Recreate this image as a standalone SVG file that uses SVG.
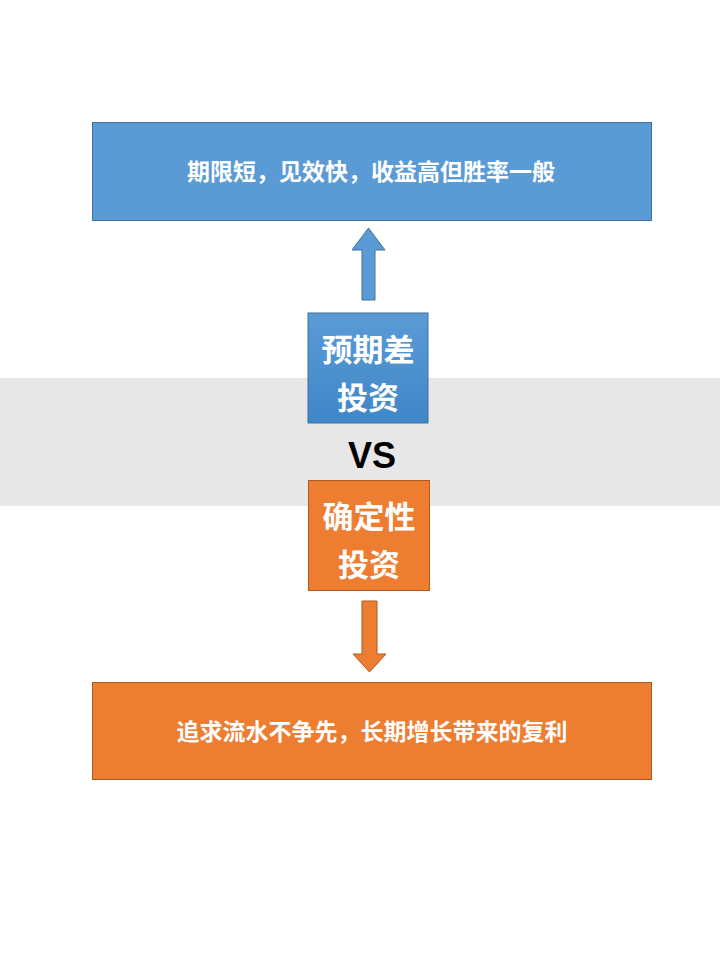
<svg xmlns="http://www.w3.org/2000/svg" width="720" height="960" viewBox="0 0 720 960">
<defs>
<style>
.t{font-family:"Noto Sans CJK SC","Liberation Sans",sans-serif;font-weight:bold;fill:#fff;text-anchor:middle}
</style>
<linearGradient id="bg" x1="0" y1="0" x2="0" y2="1"><stop offset="0" stop-color="#5b9bd5"/><stop offset="1" stop-color="#3f86c9"/></linearGradient>
</defs>
<rect width="720" height="960" fill="#fff"/>
<rect x="0" y="378" width="720" height="128" fill="#e7e7e7"/>
<g id="top"><rect x="92.5" y="122.5" width="559" height="98" fill="#5b9bd5" stroke="#41719c"/>
<text class="t" x="371" y="180" font-size="23">期限短，见效快，收益高但胜率一般</text></g>
<g id="bottom"><rect x="92.5" y="682.5" width="559" height="97" fill="#ed7d31" stroke="#ae5a21"/>
<text class="t" x="372" y="740" font-size="23">追求流水不争先，长期增长带来的复利</text></g>
<g id="exp"><rect x="308" y="313" width="120" height="110" fill="url(#bg)" stroke="#41719c"/>
<text class="t" x="368" y="361" font-size="31">预期差</text><text class="t" x="368" y="409" font-size="31">投资</text></g>
<g id="vs"><text x="372" y="468" font-family="Liberation Sans,sans-serif" font-weight="bold" font-size="36" text-anchor="middle" fill="#000">VS</text></g>
<g id="cert"><rect x="308.5" y="480.5" width="121" height="110" fill="#ed7d31" stroke="#ae5a21"/>
<text class="t" x="369" y="528" font-size="31">确定性</text><text class="t" x="369" y="576" font-size="31">投资</text></g>
<g id="connectors">
<polygon points="362,300 362,250 352,250 368.5,228 385,250 375,250 375,300" fill="#5b9bd5" stroke="#41719c"/>
<polygon points="362,601 377,601 377,654 386,654 369.5,672 353,654 362,654" fill="#ed7d31" stroke="#ae5a21"/>
</g>
</svg>
